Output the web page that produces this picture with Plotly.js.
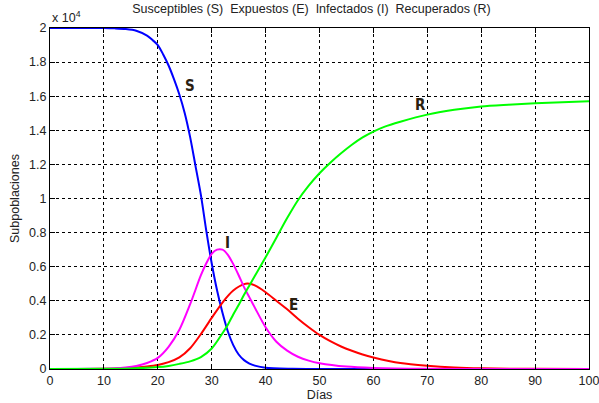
<!DOCTYPE html>
<html>
<head>
<meta charset="utf-8">
<script src="https://cdn.plot.ly/plotly-3.0.1.min.js"></script>
<style>html,body{margin:0;padding:0;background:#fff;}#chart{width:599px;height:403px;}</style>
</head>
<body>
<div id="chart"></div>
<script>
// Values in units of 10^4
const daysS = [0, 5, 10, 12, 14, 16, 18, 19, 20, 21, 22, 23, 24, 25, 26, 27, 28, 29, 30, 31, 32, 33, 34, 35, 36, 37, 38, 40, 45, 50, 60, 100];
const valS  = [2.0, 2.0, 2.0, 1.998, 1.994, 1.984, 1.955, 1.93, 1.90, 1.845, 1.78, 1.70, 1.61, 1.50, 1.36, 1.19, 1.02, 0.81, 0.62, 0.46, 0.33, 0.22, 0.14, 0.085, 0.052, 0.032, 0.02, 0.007, 0.0015, 0.0005, 0.0001, 0];

const daysE = [0, 5, 10, 12, 14, 16, 18, 20, 22, 24, 26, 28, 30, 32, 34, 36, 37, 38, 40, 42, 44, 46, 48, 50, 52, 54, 56, 58, 60, 65, 70, 75, 80, 90, 100];
const valE  = [0, 0.0002, 0.001, 0.002, 0.005, 0.009, 0.015, 0.024, 0.04, 0.068, 0.122, 0.205, 0.30, 0.39, 0.46, 0.498, 0.50, 0.49, 0.45, 0.40, 0.35, 0.295, 0.245, 0.20, 0.163, 0.132, 0.107, 0.085, 0.068, 0.035, 0.019, 0.009, 0.004, 0.001, 0.0002];

const daysI = [0, 5, 10, 12, 14, 16, 18, 20, 22, 24, 26, 28, 29, 30, 31, 32, 33, 34, 35, 36, 37, 38, 40, 42, 44, 46, 48, 50, 55, 60, 70, 80, 100];
const valI  = [0, 0.0003, 0.002, 0.004, 0.009, 0.018, 0.035, 0.065, 0.13, 0.23, 0.38, 0.55, 0.62, 0.675, 0.70, 0.70, 0.67, 0.615, 0.55, 0.48, 0.42, 0.36, 0.245, 0.16, 0.108, 0.072, 0.049, 0.034, 0.014, 0.006, 0.001, 0.0002, 0];

const daysR = [0, 10, 15, 20, 22, 24, 26, 28, 30, 32, 33, 34, 35, 36, 37, 38, 40, 42, 44, 46, 48, 50, 52, 54, 56, 58, 60, 62, 65, 70, 75, 80, 85, 90, 95, 100];
const valR  = [0, 0.001, 0.003, 0.011, 0.018, 0.03, 0.045, 0.07, 0.12, 0.21, 0.26, 0.32, 0.375, 0.435, 0.49, 0.545, 0.655, 0.77, 0.885, 0.99, 1.075, 1.148, 1.21, 1.265, 1.315, 1.358, 1.392, 1.42, 1.45, 1.492, 1.52, 1.54, 1.55, 1.558, 1.565, 1.57];

const seriesNames = ["S", "E", "I", "R"];
const labelX = [26.0, 45.1, 33.0, 68.8];
const labelY = [1.66, 0.375, 0.74, 1.55];

const xTicks = [0, 10, 20, 30, 40, 50, 60, 70, 80, 90, 100];
const yTicks = [0, 0.2, 0.4, 0.6, 0.8, 1, 1.2, 1.4, 1.6, 1.8, 2];
const yTickText = ["0", "0.2", "0.4", "0.6", "0.8", "1", "1.2", "1.4", "1.6", "1.8", "2"];

const titleText = "Susceptibles (S)  Expuestos (E)  Infectados (I)  Recuperados (R)";

const mk = (x, y, color) => ({x: x, y: y, type: 'scatter', mode: 'lines',
  line: {color: color, width: 2, shape: 'spline', smoothing: 0.8}, hoverinfo: 'skip'});

const data = [
  mk(daysS, valS, '#0000ff'),
  mk(daysE, valE, '#ff0000'),
  mk(daysI, valI, '#ff00ff'),
  mk(daysR, valR, '#00ff00')
];

const font = {family: '"Liberation Sans", Arial, sans-serif', size: 12.5, color: '#222'};

const annotations = seriesNames.map((n, i) => ({
  x: labelX[i], y: labelY[i], xref: 'x', yref: 'y', text: '<b>' + n + '</b>', showarrow: false,
  font: {family: '"Liberation Sans Narrow", "DejaVu Sans Condensed", Arial', size: 15, color: '#2a2010'}
}));
annotations.push({x: 0, y: 1, xref: 'paper', yref: 'paper', xanchor: 'left', yanchor: 'bottom',
  text: 'x 10<sup>4</sup>', showarrow: false, yshift: 1, font: font});

const axisCommon = {
  showline: true, mirror: 'all', linecolor: '#000', linewidth: 1,
  ticks: 'inside', ticklen: 5, tickcolor: '#000',
  showgrid: true, gridcolor: '#000', gridwidth: 1, griddash: '3px,3px',
  zeroline: false, tickfont: font, ticklabeloverflow: 'allow'
};

const layout = {
  width: 599, height: 403,
  margin: {l: 50, r: 10, t: 28, b: 34},
  paper_bgcolor: '#fff', plot_bgcolor: '#fff',
  showlegend: false,
  font: font,
  title: {text: titleText, x: 0.52, xanchor: 'center', y: 0.99, yanchor: 'top', font: font},
  xaxis: Object.assign({}, axisCommon, {
    range: [0, 100], tickvals: xTicks, ticktext: xTicks.map(String),
    title: {text: 'Días', font: font, standoff: 3}
  }),
  yaxis: Object.assign({}, axisCommon, {
    range: [0, 2], tickvals: yTicks, ticktext: yTickText,
    title: {text: 'Subpoblaciones', font: font, standoff: 6}
  }),
  annotations: annotations
};

Plotly.newPlot('chart', data, layout, {staticPlot: true, displayModeBar: false});
</script>
</body>
</html>
